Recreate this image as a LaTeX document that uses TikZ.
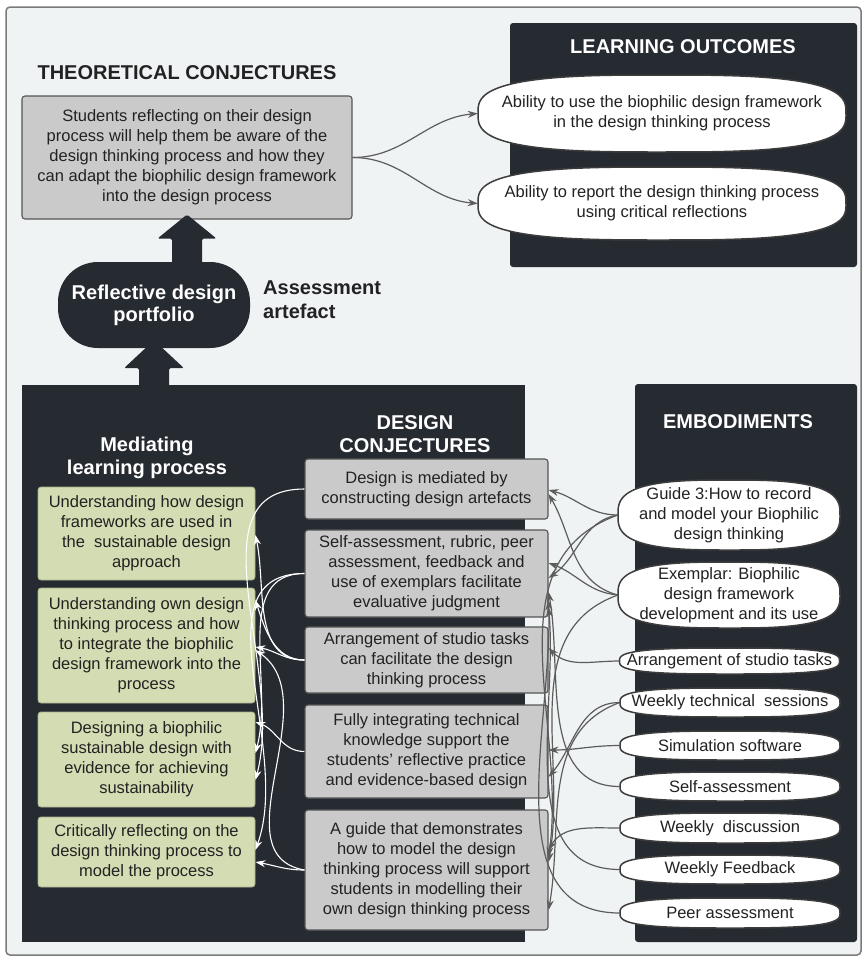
\documentclass[tikz,border=0pt]{standalone}
\usepackage{fontspec}
\setmainfont{Liberation Sans}
\usetikzlibrary{shapes.geometric,arrows.meta,calc}
\definecolor{bgc}{HTML}{F0F3F4}
\definecolor{framec}{HTML}{7A7A7A}
\definecolor{darkc}{HTML}{262A31}
\definecolor{boxg}{HTML}{CACACA}
\definecolor{boxl}{HTML}{555555}
\definecolor{greenc}{HTML}{D4DCB3}
\definecolor{greenl}{HTML}{A9B08B}
\definecolor{txt}{HTML}{222222}
\definecolor{linec}{HTML}{5C5C5C}
\definecolor{ellc}{HTML}{3C3C3C}
\tikzset{
  body/.style={font=\fontsize{16.5}{20}\selectfont, align=center, text=txt, inner sep=0},
  titletext/.style={font=\bfseries\fontsize{20}{23}\selectfont, align=center, inner sep=0},
  panel/.style={fill=darkc, inner sep=0},
  graybox/.style={body, draw=boxl, fill=boxg, rounded corners=3, line width=1.1},
  greenbox/.style={body, draw=greenl, fill=greenc, rounded corners=3, line width=0.8},
  ellanchor/.style={ellipse, inner sep=0},
  supershape/.style={draw=ellc, fill=white, line width=1.5},
  gconn/.style={draw=linec, line width=1.2, -{Stealth[length=10pt,width=7pt]}},
  wconn/.style={draw=white, line width=1.1, -{Stealth[length=10pt,width=7pt]}},
  portnode/.style={fill=darkc, rounded corners=40, text=white, font=\bfseries\fontsize{20}{22}\selectfont, align=center, inner sep=0},
}
% superellipse outline around a named centre: #1 centre, #2 half width, #3 half height
\newcommand\superellipse[3]{%
  \filldraw[supershape, shift={(#1)}] plot[domain=1:361, samples=121, variable=\t]
    ({#2*sign(cos(\t))*pow(abs(cos(\t)),0.6667)},{#3*sign(sin(\t))*pow(abs(sin(\t)),0.6667)}) -- cycle;}
\begin{document}
\begin{tikzpicture}[x=1pt,y=-1pt]
\useasboundingbox (0,0) rectangle (866,959);
\fill[white] (0,0) rectangle (866,959);
\draw[draw=framec, fill=bgc, line width=1.5, rounded corners=4] (6,7) rectangle (861,955);

% panels
\node[panel, rounded corners=3, minimum width=347, minimum height=244] (lopanel) at (683.5,145) {};
\node[panel, minimum width=503, minimum height=557] (leftpanel) at (273.5,663.5) {};
\node[panel, rounded corners=3, minimum width=222, minimum height=558] (empanel) at (746,663) {};

% titles
\node[titletext, text=txt] (tctitle) at (187,73) {THEORETICAL CONJECTURES};
\node[titletext, text=white] (lotitle) at (683,47) {LEARNING OUTCOMES};
\node[titletext, text=white] (emtitle) at (738,422) {EMBODIMENTS};
\node[titletext, text=white] (dctitle) at (415,434) {DESIGN\\CONJECTURES};
\node[titletext, text=white] (medtitle) at (147,458) {Mediating\\learning process};

% theoretical conjecture
\node[graybox, minimum width=330, minimum height=123] (tc) at (187,157.5) {Students reflecting on their design\\process will help them be aware of the\\design thinking process and how they\\can adapt the biophilic design framework\\into the design process};

% portfolio
\node[portnode, minimum width=192, minimum height=86] (port) at (154,305) {Reflective design\\portfolio};
\node[titletext, text=txt, anchor=west, align=left, font=\bfseries\fontsize{20}{24}\selectfont] (assess) at (263,300) {Assessment\\artefact};

% big arrows
\fill[darkc, rounded corners=1.5] ([yshift=5pt]tc.south) -- ++(29.5,24) -- ++(-14.5,0) -- ++(0,30) -- ++(-30,0) -- ++(0,-30) -- ++(-14.5,0) -- cycle;
\fill[darkc, rounded corners=1.5] ([yshift=8pt]port.south) -- ++(30,28) -- ++(-15,0) -- ++(0,22) -- ++(-30,0) -- ++(0,-22) -- ++(-15,0) -- cycle;

% learning outcomes
\node[ellanchor, minimum width=368, minimum height=77] (lo1) at (662,113.5) {};
\superellipse{lo1}{184}{38.5}
\node[body] (lo1t) at (lo1) {Ability to use the biophilic design framework\\in the design thinking process};
\node[ellanchor, minimum width=368, minimum height=73] (lo2) at (662,203.5) {};
\superellipse{lo2}{184}{36.5}
\node[body] (lo2t) at (lo2) {Ability to report the design thinking process\\using critical reflections};
\draw[gconn] (tc.east) to[out=0,in=185] (lo1.west);
\draw[gconn] (tc.east) to[out=0,in=175] (lo2.west);

% mediating learning process
\node[greenbox, minimum width=217, minimum height=93] (g1) at (146.5,533.5) {Understanding how design\\frameworks are used in\\the\ \ sustainable design\\approach};
\node[greenbox, minimum width=217, minimum height=115] (g2) at (146.5,645.5) {Understanding own design\\thinking process and how\\to integrate the biophilic\\design framework into the\\process};
\node[greenbox, minimum width=217, minimum height=95] (g3) at (146.5,759.5) {Designing a biophilic\\sustainable design with\\evidence for achieving\\sustainability};
\node[greenbox, minimum width=217, minimum height=70] (g4) at (146.5,852) {Critically reflecting on the\\design thinking process to\\model the process};

% design conjectures
\node[graybox, minimum width=243, minimum height=60] (dc1) at (426.5,489) {Design is mediated by\\constructing design artefacts};
\node[graybox, minimum width=243, minimum height=87] (dc2) at (426.5,573.5) {Self-assessment, rubric, peer\\assessment, feedback and\\use of exemplars facilitate\\evaluative judgment};
\node[graybox, minimum width=243, minimum height=66] (dc3) at (426.5,660) {Arrangement of studio tasks\\can facilitate the design\\thinking process};
\node[graybox, minimum width=243, minimum height=93] (dc4) at (426.5,751.5) {Fully integrating technical\\knowledge support the\\students' reflective practice\\and evidence-based design};
\node[graybox, minimum width=243, minimum height=120] (dc5) at (426.5,870) {A guide that demonstrates\\how to model the design\\thinking process will support\\students in modelling their\\own design thinking process};

% embodiments
\node[ellanchor, minimum width=222, minimum height=70] (e1) at (729,515) {};
\superellipse{e1}{111}{35}
\node[body] (e1t) at (e1) {Guide 3:How to record\\and model your Biophilic\\design thinking};
\node[ellanchor, minimum width=222, minimum height=66] (e2) at (729,595) {};
\superellipse{e2}{111}{33}
\node[body] (e2t) at (e2) {Exemplar: Biophilic\\design framework\\development and its use};
\node[ellanchor, minimum width=220, minimum height=26] (e3) at (729.5,661) {};
\superellipse{e3}{110}{13}
\node[body] (e3t) at (e3) {Arrangement of studio tasks};
\node[ellanchor, minimum width=220, minimum height=29] (e4) at (730,702.5) {};
\superellipse{e4}{110}{14.5}
\node[body] (e4t) at (e4) {Weekly technical\ \ sessions};
\node[ellanchor, minimum width=220, minimum height=29] (e5) at (730,745.5) {};
\superellipse{e5}{110}{14.5}
\node[body] (e5t) at (e5) {Simulation software};
\node[ellanchor, minimum width=220, minimum height=29] (e6) at (730,786.5) {};
\superellipse{e6}{110}{14.5}
\node[body] (e6t) at (e6) {Self-assessment};
\node[ellanchor, minimum width=220, minimum height=30] (e7) at (730,828) {};
\superellipse{e7}{110}{15}
\node[body] (e7t) at (e7) {Weekly\ \ discussion};
\node[ellanchor, minimum width=220, minimum height=29] (e8) at (730,869.5) {};
\superellipse{e8}{110}{14.5}
\node[body] (e8t) at (e8) {Weekly Feedback};
\node[ellanchor, minimum width=220, minimum height=30] (e9) at (730,913) {};
\superellipse{e9}{110}{15}
\node[body] (e9t) at (e9) {Peer assessment};

% embodiment -> design conjecture connectors
\draw[gconn] (e1.west) to[out=180,in=-15] ($(dc1.east)+(0,1)$);
\draw[gconn] (e2.west) to[out=165,in=-60] ($(dc1.east)+(0,5)$);
\draw[gconn] (e2.west) to[out=175,in=-20] ($(dc2.east)+(0,-10.5)$);
\draw[gconn] (e1.west) to[out=190,in=35] ($(dc2.east)+(0,4.5)$);
\draw[gconn] (e1.west) to[out=200,in=82] ($(dc5.east)+(0,-13)$);
\draw[gconn] (e2.west) to[out=200,in=80] ($(dc5.east)+(0,-8)$);
\draw[gconn] (e3.west) to[out=180,in=-45] ($(dc3.east)+(0,-12)$);
\draw[gconn] (e4.west) to[out=180,in=50] ($(dc4.east)+(0,25.5)$);
\draw[gconn] (e5.west) to[out=180,in=0] ($(dc4.east)+(0,-1.5)$);
\draw[gconn] (e6.west) to[out=180,in=-80] ($(dc2.east)+(0,18.5)$);
\draw[gconn] (e8.west) to[out=180,in=-85] ($(dc2.east)+(0,33.5)$);
\draw[gconn] (e9.west) to[out=180,in=-88] ($(dc2.east)+(0,26.5)$);
\draw[gconn] (e4.west) to[out=200,in=80] ($(dc5.east)+(0,40)$);
\draw[gconn] (e7.west) to[out=180,in=60] ($(dc5.east)+(0,-20)$);

% design conjecture -> mediating process connectors
\draw[wconn] (dc1.west) to[out=180,in=75] ($(g3.east)+(0,20.5)$);
\draw[wconn] (dc2.west) to[out=180,in=70] ($(g4.east)+(0,-2)$);
\draw[wconn] (dc2.west) to[out=180,in=75] ($(g3.east)+(0,-6.5)$);
\draw[wconn] (dc3.west) to[out=180,in=-78] ($(g1.east)+(0,1.5)$);
\draw[wconn] (dc3.west) to[out=180,in=-72] ($(g2.east)+(0,-45.5)$);
\draw[wconn] (dc3.west) to[out=180,in=-10] ($(g2.east)+(0,1.5)$);
\draw[wconn] (dc4.west) to[out=180,in=-20] ($(g3.east)+(0,-37.5)$);
\draw[wconn] (dc5.west) to[out=180,in=-10] ($(g4.east)+(0,10)$);
\draw[wconn] (dc5.west) to[out=170,in=-35] ($(g2.east)+(0,4.5)$);
\end{tikzpicture}
\end{document}
